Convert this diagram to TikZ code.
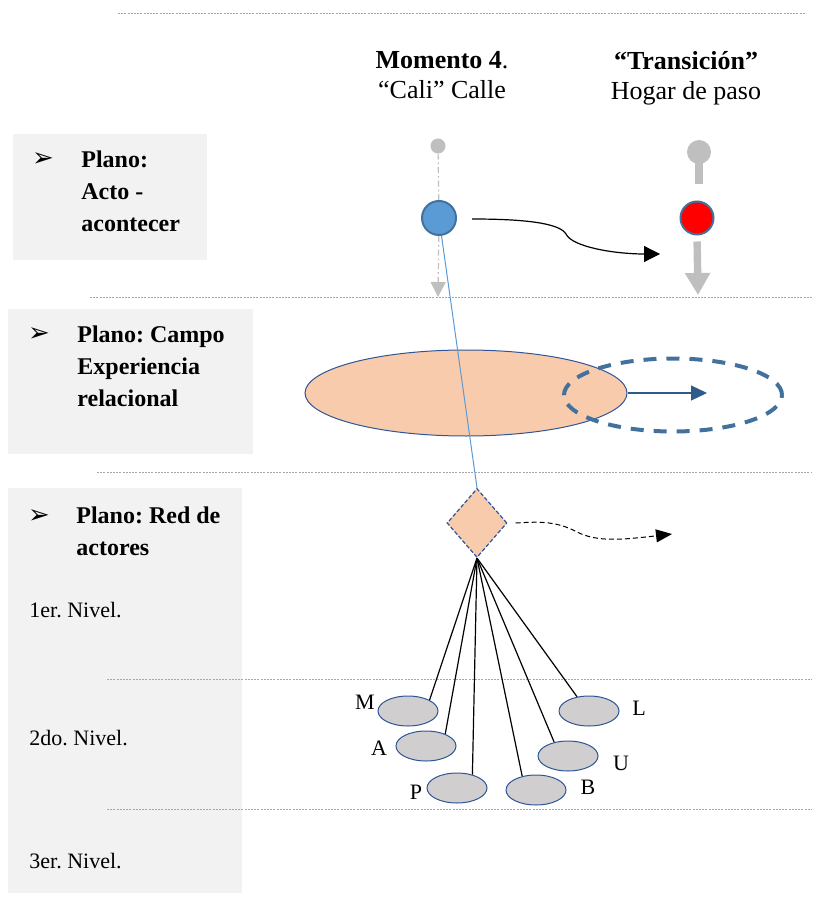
\documentclass[tikz,border=0pt]{standalone}
\usepackage{fontspec}
\setmainfont{Liberation Serif}
\newfontfamily\dejavu{DejaVu Sans}
\usepackage{tikz}
\usetikzlibrary{arrows.meta}
\usetikzlibrary{shapes.geometric}
\usetikzlibrary{positioning}
\usetikzlibrary{calc}
\frenchspacing

\definecolor{grisplano}{HTML}{F2F2F2}
\definecolor{grisguia}{HTML}{A6A6A6}
\definecolor{grispin}{HTML}{BFBFBF}
\definecolor{azulacto}{HTML}{5B9BD5}
\definecolor{azulborde}{HTML}{41719C}
\definecolor{azuloscuro}{HTML}{2F5597}
\definecolor{azulflecha}{HTML}{2E5C8A}
\definecolor{salmon}{HTML}{F8CBAD}
\definecolor{grisactor}{HTML}{D0CECE}

\tikzset{
dot/.style = {circle, fill, minimum size=#1,
              inner sep=0pt, outer sep=0pt},
dot/.default = 4pt, % diametro del circulo
guia/.style = {draw=grisguia, line width=0.5pt, dash pattern=on 1pt off 0.6pt},
actor/.style = {ellipse, draw=azuloscuro, fill=grisactor, line width=0.5pt,
                minimum width=30pt, minimum height=15pt, inner sep=0pt},
plano/.style = {anchor=north west, inner sep=0pt, align=left,
                font=\bfseries\fontsize{12}{16}\selectfont},
nivel/.style = {anchor=base west, inner sep=0pt, font=\fontsize{11}{12}\selectfont},
letra/.style = {inner sep=0pt, font=\fontsize{11}{12}\selectfont}
}
\newcommand{\guia}[3]{\draw[guia] (#1,#3) -- (#2,#3);}
\newcommand{\bala}[2]{\node[anchor=base, inner sep=0pt] (#1) at (#2) {\dejavu\fontsize{13}{14}\selectfont ➢};}
\newcommand{\actor}[4]{\node[actor] (#1) at (#2) {};
  \node[letra] (lab#1) at (#3) {#1};
  \draw[line width=0.6pt] (rd.south) -- (#1.#4);}

\begin{document}
\begin{tikzpicture}[x=0.5pt, y=-0.5pt]
    \useasboundingbox (0,0) rectangle (816,898);

    % planos
    \fill[grisplano] (13,134) rectangle (207,260);
    \fill[grisplano] (8,309) rectangle (253,454);
    \fill[grisplano] (8,488) rectangle (242,893);

    \guia{118}{806}{14};
    \guia{90}{812}{298};
    \guia{97}{812}{472};
    \guia{107}{812}{679};
    \guia{107}{812}{809};

    \bala{b1}{43,167};
    \node[plano] (p1) at (81,150) {Plano:\\Acto -\\acontecer};
    \bala{b2}{39,342};
    \node[plano] (p2) at (77,325) {Plano: Campo\\Experiencia\\relacional};
    \bala{b3}{39,523};
    \node[plano] (p3) at (76,506) {Plano: Red de\\actores};

    \node[nivel] (n1) at (29,617) {1er. Nivel.};
    \node[nivel] (n2) at (29,745) {2do. Nivel.};
    \node[nivel] (n3) at (29,868) {3er. Nivel.};

    % encabezados
    \node[anchor=north, inner sep=0pt, align=center, font=\fontsize{13}{15}\selectfont]
      (mom) at (442,51) {\textbf{Momento 4}.\\“Cali” Calle};
    \node[anchor=north, inner sep=0pt, align=center, font=\fontsize{13}{15}\selectfont]
      (tra) at (686,51) {\textbf{“Transición”}\\Hogar de paso};

    % acto
    \node[dot=7.5pt, grispin] (pd1) at (438,146) {};
    \node[circle, draw=azulborde, fill=azulacto, line width=1pt,
          minimum size=17pt, inner sep=0pt] (act) at (439,218) {};
    \coordinate (fl1) at (438,297);
    \draw[grispin, line width=0.6pt, dash pattern=on 3pt off 1.5pt on 0.8pt off 1.5pt]
      (pd1) -- (act);
    \draw[grispin, line width=0.6pt, dash pattern=on 3pt off 1.5pt on 0.8pt off 1.5pt,
          -{Triangle[length=7.5pt,width=7.5pt]}] (act) -- (fl1);

    \node[dot=12pt, grispin] (pd2) at (699,152) {};
    \coordinate (pd2b) at (699,184);
    \draw[grispin, line width=3.7pt] (pd2.center) -- (pd2b);
    \node[circle, draw=azulborde, fill=red, line width=1pt,
          minimum size=16.5pt, inner sep=0pt] (rc) at (697,218) {};
    \coordinate (fl2) at (698,295);
    \draw[grispin, line width=3.7pt, shorten <=3pt,
          -{Triangle[length=11pt,width=12pt]}] (rc.south) -- (fl2);

    \coordinate (c0) at (472,219);
    \coordinate (c1) at (660,254);
    \draw[line width=0.6pt, -{Triangle[length=8pt,width=8pt]}]
      (c0) .. controls (530,219) and (560,224) .. (566,234)
           .. controls (572,247) and (615,254) .. (c1);

    % campo
    \node[ellipse, draw=azuloscuro, fill=salmon, line width=0.5pt,
          minimum width=161pt, minimum height=43pt, inner sep=0pt] (campo) at (466,393) {};
    \node[ellipse, draw=azulborde, line width=2pt, dash pattern=on 6.5pt off 5pt,
          minimum width=109pt, minimum height=36.5pt, inner sep=0pt] (hogar) at (673,395) {};
    \coordinate (fl3) at (707,393);
    \draw[azulflecha, line width=0.6pt, -{Triangle[length=8pt,width=7.5pt]}]
      (campo.east) -- (fl3);

    % red
    \node[diamond, draw=azuloscuro, fill=salmon, line width=0.6pt,
          dash pattern=on 2pt off 1pt, minimum width=30pt, minimum height=34.5pt,
          inner sep=0pt] (rd) at (477,523) {};
    \draw[azulacto, line width=0.5pt] (act) -- (rd.north);
    \coordinate (c2) at (672,534);
    \draw[line width=0.5pt, dash pattern=on 2.5pt off 1.5pt,
          -{Triangle[length=8pt,width=6.5pt]}]
      ([xshift=4pt]rd.east) .. controls (535,522) and (555,520) .. (577,532)
           .. controls (597,542) and (620,540) .. (c2);

    \actor{M}{408,711}{365,702}{27};
    \actor{A}{426,746}{379,748}{32};
    \actor{P}{457,788}{416,792}{41};
    \actor{B}{536,790}{588,787}{135};
    \actor{U}{568,756}{621,763}{135};
    \actor{L}{589,711}{639,708}{130};
\end{tikzpicture}
\end{document}
